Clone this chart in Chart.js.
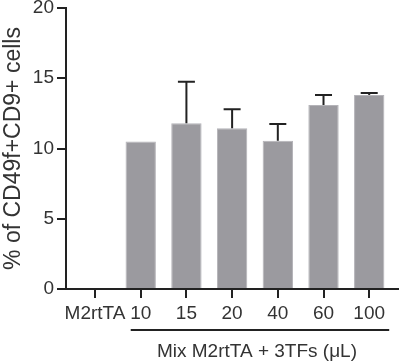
<!DOCTYPE html>
<html>
<head>
<meta charset="utf-8">
<script src="https://cdn.jsdelivr.net/npm/chart.js@4"></script>
<style>
html,body{margin:0;padding:0;background:#fff;}
#wrap{width:400px;height:362px;position:relative;}
</style>
</head>
<body>
<div id="wrap"><canvas id="c" width="400" height="362"></canvas></div>
<script>
const categories = ['M2rtTA', '10', '15', '20', '40', '60', '100'];
const means = [null, 10.5, 11.8, 11.45, 10.55, 13.1, 13.8];
const errorTops = [null, null, 14.75, 12.8, 11.75, 13.8, 13.95];
const yTicks = [0, 5, 10, 15, 20];
const groupLabel = 'Mix M2rtTA + 3TFs (\u03BCL)';
const yTitle = '% of CD49f+CD9+ cells';

const FONT = "'Liberation Sans', Arial, sans-serif";
const ink = '#222';
const textCol = '#333';

const errorBarPlugin = {
  id: 'errorBars',
  afterDatasetsDraw(chart) {
    const ctx = chart.ctx, xs = chart.scales.x, ys = chart.scales.y;
    ctx.save();
    ctx.strokeStyle = ink;
    ctx.lineWidth = 2;
    errorTops.forEach((e, i) => {
      if (e == null || means[i] == null) return;
      const x = xs.getPixelForValue(i);
      const y0 = ys.getPixelForValue(means[i]);
      const y1 = ys.getPixelForValue(e);
      ctx.beginPath();
      ctx.moveTo(x, y0); ctx.lineTo(x, y1);
      ctx.moveTo(x - 8.5, y1); ctx.lineTo(x + 8.5, y1);
      ctx.stroke();
    });
    // group line and label
    const xa = xs.getPixelForValue(1) - 10;
    const xb = xs.getPixelForValue(6) + 20;
    const yl = ys.bottom + 41;
    ctx.beginPath();
    ctx.lineWidth = 2;
    ctx.moveTo(xa, yl); ctx.lineTo(xb, yl);
    ctx.stroke();
    ctx.fillStyle = textCol;
    ctx.font = "19px " + FONT;
    ctx.textAlign = 'center';
    ctx.textBaseline = 'middle';
    ctx.fillText(groupLabel, (xs.getPixelForValue(1) + xs.getPixelForValue(6)) / 2 + 2, yl + 22);
    ctx.restore();
  }
};

new Chart(document.getElementById('c'), {
  type: 'bar',
  data: {
    datasets: [{
      data: means.map((v, i) => ({ x: i, y: v })),
      backgroundColor: '#9b9a9f',
      borderColor: '#b4b3b8',
      borderWidth: 1,
      barPercentage: 0.8,
      categoryPercentage: 0.83
    }]
  },
  options: {
    responsive: false,
    animation: false,
    layout: { padding: { top: 8, right: 2, left: 0, bottom: 0 } },
    plugins: { legend: { display: false }, tooltip: { enabled: false } },
    scales: {
      x: {
        type: 'linear',
        offset: false,
        min: -0.635,
        max: 6.63,
        grid: { display: true, offset: false, drawOnChartArea: false, drawTicks: true, tickLength: 9, color: ink, lineWidth: 2 },
        border: { display: true, color: ink, width: 2 },
        ticks: {
          stepSize: 1,
          includeBounds: false,
          autoSkip: false,
          maxRotation: 0,
          padding: 4,
          color: textCol,
          font: { family: FONT, size: 19 },
          callback: (v) => (Number.isInteger(v) && v >= 0 && v < categories.length) ? categories[v] : ''
        },
        afterFit: (s) => { s.height = 73; s.paddingLeft = 0; s.paddingRight = 0; }
      },
      y: {
        min: 0,
        max: 20,
        grid: { display: true, drawOnChartArea: false, drawTicks: true, tickLength: 9, color: ink, lineWidth: 2 },
        border: { display: true, color: ink, width: 2 },
        afterBuildTicks: (s) => { s.ticks = yTicks.map(v => ({ value: v })); },
        ticks: {
          padding: 3,
          color: textCol,
          font: { family: FONT, size: 19 }
        },
        title: {
          display: true,
          text: yTitle,
          color: textCol,
          font: { family: FONT, size: 23 },
          padding: { top: 0, bottom: 0 }
        },
        afterFit: (s) => { s.width = 66; s.paddingTop = 0; s.paddingBottom = 0; }
      }
    }
  },
  plugins: [errorBarPlugin]
});
</script>
</body>
</html>
